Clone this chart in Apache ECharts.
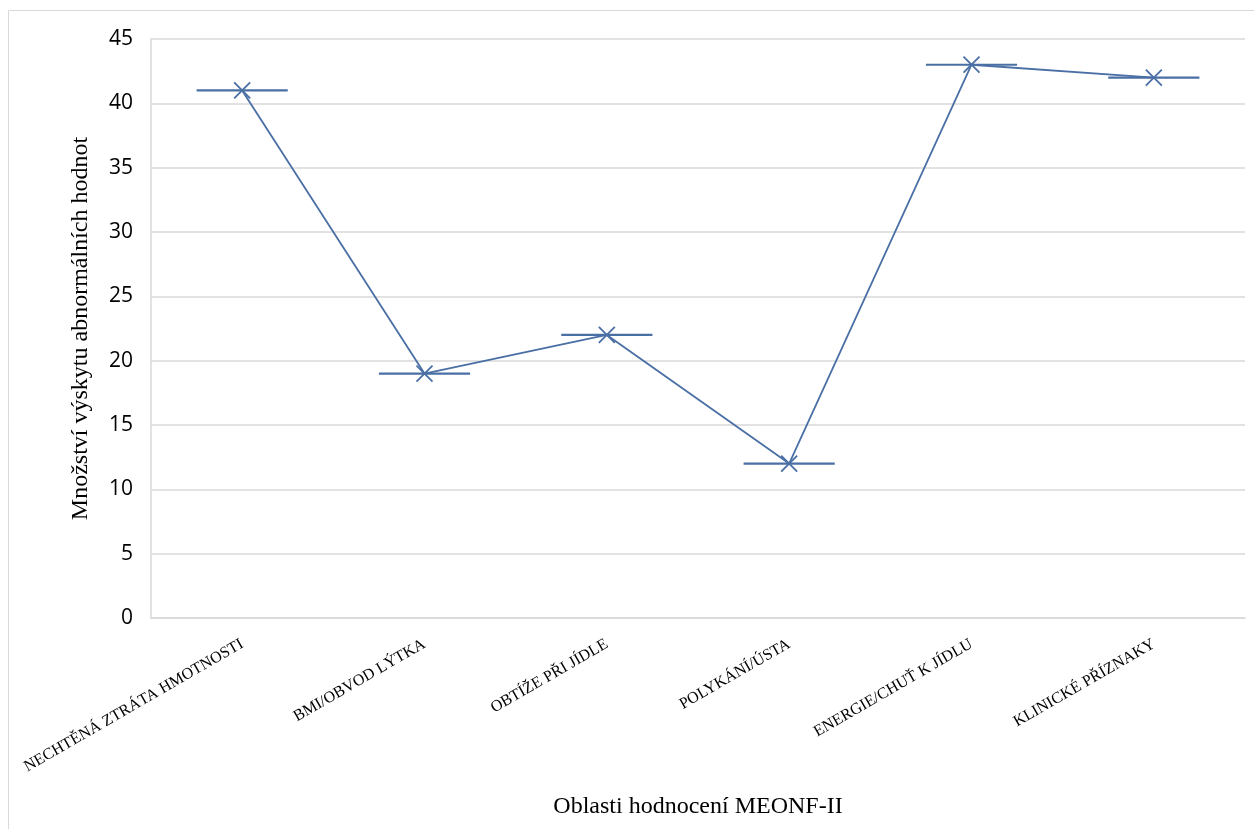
<!DOCTYPE html>
<html>
<head>
<meta charset="utf-8">
<script src="https://cdn.jsdelivr.net/npm/echarts@6/dist/echarts.min.js"></script>
<style>
  html, body { margin: 0; padding: 0; background: #ffffff; }
  #chart { width: 1254px; height: 829px; }
</style>
</head>
<body>
<div id="chart"></div>
<script>
// MEONF-II assessment areas and the count of abnormal values in each
const categories = [
  'NECHTĚNÁ ZTRÁTA HMOTNOSTI',
  'BMI/OBVOD LÝTKA',
  'OBTÍŽE PŘI JÍDLE',
  'POLYKÁNÍ/ÚSTA',
  'ENERGIE/CHUŤ K JÍDLU',
  'KLINICKÉ PŘÍZNAKY'
];
const abnormalCounts = [41, 19, 22, 12, 43, 42];
const yTicks = [0, 5, 10, 15, 20, 25, 30, 35, 40, 45];

const lineColor = '#4a6fa5';
const gridColor = '#d9d9d9';

const chart = echarts.init(document.getElementById('chart'), null, { renderer: 'canvas' });

chart.setOption({
  backgroundColor: '#ffffff',
  animation: false,
  graphic: [{
    type: 'rect',
    shape: { x: 8.5, y: 10.5, width: 1260, height: 830 },
    style: { fill: 'none', stroke: '#d9d9d9', lineWidth: 1 },
    silent: true,
    z: -10
  }],
  grid: { left: 151, top: 39, right: 9, bottom: 211 },
  xAxis: {
    type: 'category',
    data: categories,
    boundaryGap: true,
    name: 'Oblasti hodnocení MEONF-II',
    nameLocation: 'middle',
    nameGap: 177,
    nameTextStyle: { fontFamily: 'Liberation Serif', fontSize: 24, color: '#000000' },
    axisLine: { show: true, lineStyle: { color: gridColor, width: 1.5 } },
    axisTick: { show: false },
    splitLine: { show: false },
    axisLabel: {
      rotate: 30,
      interval: 0,
      margin: 25,
      fontFamily: 'Liberation Serif',
      fontSize: 16,
      color: '#000000'
    }
  },
  yAxis: {
    type: 'value',
    min: 0,
    max: yTicks[yTicks.length - 1],
    interval: yTicks[1] - yTicks[0],
    name: 'Množství výskytu abnormálních hodnot',
    nameLocation: 'middle',
    nameGap: 58,
    nameRotate: 90,
    nameTextStyle: { fontFamily: 'Liberation Serif', fontSize: 24, color: '#000000' },
    axisLine: { show: true, lineStyle: { color: gridColor, width: 1.5 } },
    axisTick: { show: false },
    splitLine: { show: true, lineStyle: { color: gridColor, width: 1.5 } },
    axisLabel: {
      margin: 18,
      fontFamily: 'Open Sans',
      fontSize: 21,
      color: '#000000'
    }
  },
  series: [
    {
      // horizontal dash across each category, half the band wide
      type: 'custom',
      data: abnormalCounts.map((v, i) => [i, v]),
      renderItem: function (params, api) {
        const p = api.coord([api.value(0), api.value(1)]);
        const band = api.size([1, 0])[0];
        const half = band / 4;
        return {
          type: 'line',
          shape: { x1: p[0] - half, y1: p[1], x2: p[0] + half, y2: p[1] },
          style: { stroke: lineColor, lineWidth: 2.2 }
        };
      },
      z: 2
    },
    {
      type: 'line',
      data: abnormalCounts,
      symbol: 'path://M0,0L10,10M10,0L0,10',
      symbolSize: 16,
      showSymbol: true,
      lineStyle: { color: lineColor, width: 1.8 },
      itemStyle: { color: lineColor, borderColor: lineColor, borderWidth: 1.8 },
      z: 3
    }
  ]
});
</script>
</body>
</html>
